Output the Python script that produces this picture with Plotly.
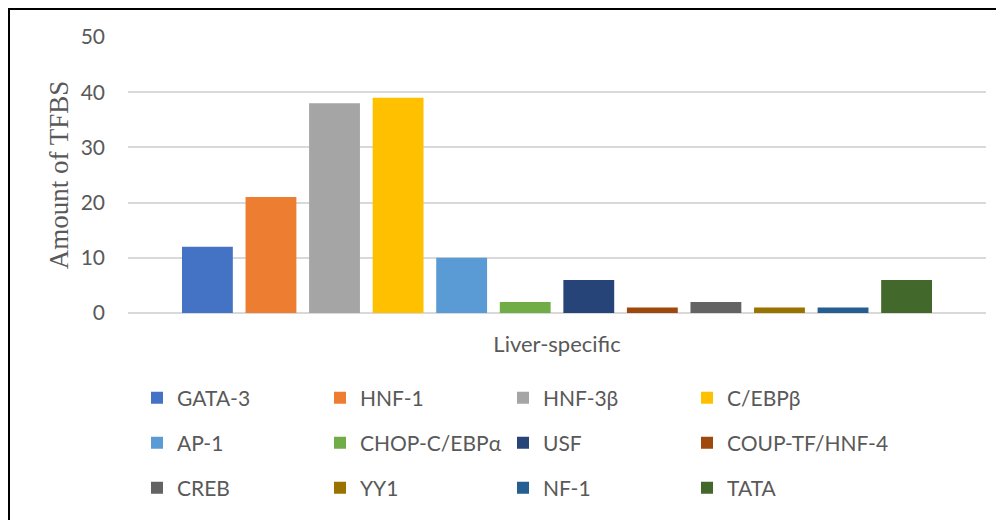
import plotly.graph_objects as go

categories = ["Liver-specific"]
series_names = ["GATA-3", "HNF-1", "HNF-3β", "C/EBPβ", "AP-1", "CHOP-C/EBPα",
                "USF", "COUP-TF/HNF-4", "CREB", "YY1", "NF-1", "TATA"]
series_values = [12, 21, 38, 39, 10, 2, 6, 1, 2, 1, 1, 6]
series_colors = ["#4472C4", "#ED7D31", "#A5A5A5", "#FFC000", "#5B9BD5", "#70AD47",
                 "#264478", "#9E480E", "#636363", "#997300", "#255E91", "#43682B"]
y_ticks = [0, 10, 20, 30, 40, 50]

TXT = "#595959"
FONT = "Lato"

# page body has an 8px margin: figure is sized so the page fills 1004x520
OFF = 8
W, H = 1004 - OFF, 520 - OFF
L, T = 128 - OFF, 37 - OFF
R = W - (986 - OFF)
B = H - (313 - OFF)
pw, ph = W - L - R, H - T - B


def px_x(x):  # window px -> paper
    return (x - OFF - L) / pw


def px_y(y):
    return (H - B - (y - OFF)) / ph


col_swatch_x = [151, 334, 517, 701]
row_center_y = [398, 443, 488]

fig = go.Figure()
layout_legends = {}
for i, (name, val, col) in enumerate(zip(series_names, series_values, series_colors)):
    lid = "legend" if i == 0 else f"legend{i + 1}"
    fig.add_trace(go.Bar(
        x=categories, y=[val], name=name, marker_color=col,
        marker_line_width=0, legend=lid, showlegend=True,
    ))
    r, c = divmod(i, 4)
    layout_legends[lid] = dict(
        orientation="h", xanchor="left", yanchor="middle",
        x=px_x(col_swatch_x[c] - 14), y=px_y(row_center_y[r]),
        font=dict(family=FONT, size=21, color=TXT),
        bgcolor="rgba(0,0,0,0)", itemclick=False, itemdoubleclick=False,
    )

fig.update_layout(
    width=W, height=H, showlegend=True,
    margin=dict(l=L, r=R, t=T, b=B, autoexpand=False),
    paper_bgcolor="white", plot_bgcolor="white",
    barmode="group", bargap=0.111, bargroupgap=0.2,
    font=dict(family=FONT, size=21, color=TXT),
    xaxis=dict(showline=False, showgrid=False, ticks="",
               tickfont=dict(family=FONT, size=22, color=TXT),
               ticklabelstandoff=16),
    yaxis=dict(range=[0, 50], tickvals=y_ticks, showgrid=True,
               gridcolor="#D9D9D9", gridwidth=1.5, zeroline=True,
               zerolinecolor="#D9D9D9", zerolinewidth=1.5,
               showline=False, ticks="",
               tickfont=dict(family=FONT, size=21, color=TXT),
               ticklabelstandoff=22,
               title=dict(text="Amount of TFBS",
                          font=dict(family="Liberation Serif", size=27, color=TXT),
                          standoff=4)),
    shapes=[dict(type="rect", xref="paper", yref="paper",
                 x0=px_x(9), x1=px_x(1015), y0=px_y(540), y1=px_y(9),
                 line=dict(color="black", width=2), fillcolor="rgba(0,0,0,0)",
                 layer="above")],
    **layout_legends,
)

fig.write_html("out.html")
